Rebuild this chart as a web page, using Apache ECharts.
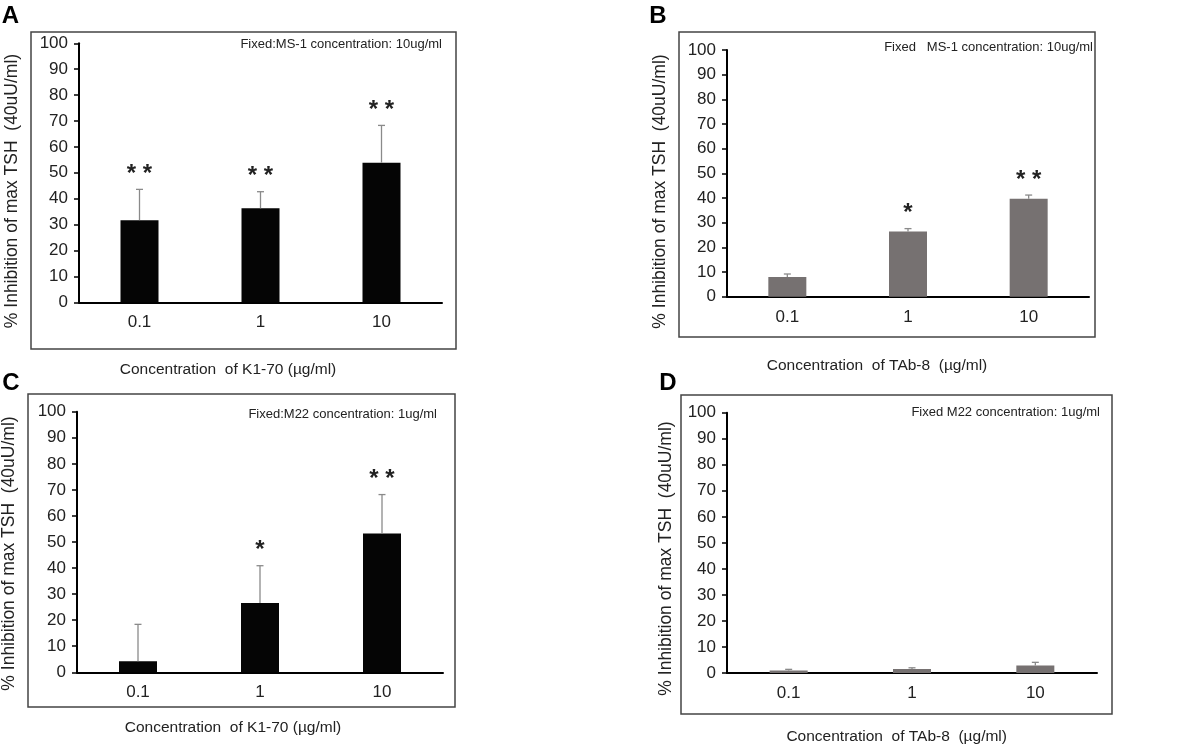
<!DOCTYPE html>
<html>
<head>
<meta charset="utf-8">
<script src="https://cdn.jsdelivr.net/npm/echarts@6/dist/echarts.min.js"></script>
<style>
html,body{margin:0;padding:0;background:#fff;}
#chart{width:1179px;height:746px;}
</style>
</head>
<body>
<div id="chart"></div>
<script>
// ---- data ----
const categories = ['0.1', '1', '10'];
const tickValues = [0, 10, 20, 30, 40, 50, 60, 70, 80, 90, 100];

const meanA = [31.7, 36.3, 53.9];
const errA  = [11.9, 6.4, 14.4];
const sigA  = ['**', '**', '**'];

const meanB = [8.0, 26.4, 39.7];
const errB  = [1.2, 1.2, 1.5];
const sigB  = ['', '*', '**'];

const meanC = [4.2, 26.6, 53.3];
const errC  = [14.2, 14.3, 14.9];
const sigC  = ['', '*', '**'];

const meanD = [1.0, 1.5, 2.9];
const errD  = [0.4, 0.5, 1.2];
const sigD  = ['', '', ''];

const panelLetters = ['A', 'B', 'C', 'D'];
const fixedNotes = [
  'Fixed:MS-1 concentration: 10ug/ml',
  'Fixed   MS-1 concentration: 10ug/ml',
  'Fixed:M22 concentration: 1ug/ml',
  'Fixed M22 concentration: 1ug/ml'
];
const xTitles = [
  'Concentration  of K1-70 (\u00b5g/ml)',
  'Concentration  of TAb-8  (\u00b5g/ml)',
  'Concentration  of K1-70 (\u00b5g/ml)',
  'Concentration  of TAb-8  (\u00b5g/ml)'
];
const yTitle = '% Inhibition of max TSH  (40uU/ml)';

// ---- layout / style ----
const FONT = '"Liberation Sans", Arial, sans-serif';
const BLACK_BAR = '#050505';
const GRAY_BAR = '#767171';
const panels = [
  {mean: meanA, err: errA, sig: sigA, color: BLACK_BAR,
   grid: {left: 79, top: 43.3, width: 363, height: 259},
   box: [31, 32, 425, 317], letter: [10.5, 16.5], note: [442, 44],
   xt: [228, 370], yt: [12, 191]},
  {mean: meanB, err: errB, sig: sigB, color: GRAY_BAR,
   grid: {left: 727, top: 50, width: 362, height: 246.7},
   box: [679, 32, 416, 305], letter: [658, 16], note: [1093, 47],
   xt: [877, 366], yt: [660.5, 191.5]},
  {mean: meanC, err: errC, sig: sigC, color: BLACK_BAR,
   grid: {left: 77, top: 411.7, width: 366, height: 260.6},
   box: [28, 394, 427, 313], letter: [11, 383], note: [437, 414],
   xt: [233, 727.7], yt: [9, 553.5]},
  {mean: meanD, err: errD, sig: sigD, color: GRAY_BAR,
   grid: {left: 727, top: 412.7, width: 370, height: 260.3},
   box: [681, 395, 431, 319], letter: [668, 383.5], note: [1100, 412],
   xt: [896.7, 736.7], yt: [666, 558.5]}
];

const grids = [], xAxes = [], yAxes = [], series = [], graphics = [];

panels.forEach((p, gi) => {
  grids.push(Object.assign({containLabel: false}, p.grid));
  xAxes.push({
    type: 'category', gridIndex: gi, data: categories, boundaryGap: true,
    axisLine: {lineStyle: {color: '#000', width: 2}},
    axisTick: {show: false},
    axisLabel: {fontFamily: FONT, fontSize: 17, color: '#222', margin: 12}
  });
  yAxes.push({
    type: 'value', gridIndex: gi, min: tickValues[0], max: tickValues[tickValues.length - 1],
    interval: tickValues[1] - tickValues[0],
    axisLine: {show: true, lineStyle: {color: '#000', width: 2}},
    axisTick: {show: true, length: 5, lineStyle: {color: '#000', width: 1.5}},
    splitLine: {show: false},
    axisLabel: {fontFamily: FONT, fontSize: 17, color: '#222', margin: 11}
  });
  series.push({
    type: 'bar', xAxisIndex: gi, yAxisIndex: gi, data: p.mean, barWidth: 38,
    itemStyle: {color: p.color}, silent: true
  });
  series.push({
    type: 'custom', xAxisIndex: gi, yAxisIndex: gi, silent: true, z: 5,
    data: p.mean.map((m, i) => [i, m, m + p.err[i]]),
    renderItem: function (params, api) {
      const i = api.value(0);
      const base = api.coord([i, api.value(1)]);
      const top = api.coord([i, api.value(2)]);
      const cap = 3.5;
      const children = [
        {type: 'line', shape: {x1: base[0], y1: base[1], x2: top[0], y2: top[1]},
         style: {stroke: '#8a8a8a', lineWidth: 1.3}},
        {type: 'line', shape: {x1: top[0] - cap, y1: top[1], x2: top[0] + cap, y2: top[1]},
         style: {stroke: '#8a8a8a', lineWidth: 1.3}}
      ];
      const s = p.sig[params.dataIndex];
      if (s) {
        children.push({type: 'text', x: top[0], y: top[1] - 23 + 8,
          style: {text: s.split('').join(' '), fontFamily: FONT, fontWeight: 'bold', fontSize: 24, fill: '#222',
                  align: 'center', verticalAlign: 'middle'}});
      }
      return {type: 'group', children: children};
    }
  });
  graphics.push({type: 'rect', shape: {x: p.box[0], y: p.box[1], width: p.box[2], height: p.box[3]},
    style: {fill: 'none', stroke: '#444', lineWidth: 1.5}, silent: true});
  graphics.push({type: 'text', x: p.letter[0], y: p.letter[1],
    style: {text: panelLetters[gi], fontFamily: FONT, fontWeight: 'bold', fontSize: 24, fill: '#000',
            align: 'center', verticalAlign: 'middle'}});
  graphics.push({type: 'text', x: p.note[0], y: p.note[1],
    style: {text: fixedNotes[gi], fontFamily: FONT, fontSize: 13, fill: '#222',
            align: 'right', verticalAlign: 'middle'}});
  graphics.push({type: 'text', x: p.xt[0], y: p.xt[1],
    style: {text: xTitles[gi], fontFamily: FONT, fontSize: 15.5, fill: '#222',
            align: 'center', verticalAlign: 'middle'}});
  graphics.push({type: 'text', x: p.yt[0], y: p.yt[1], rotation: Math.PI / 2,
    style: {text: yTitle, fontFamily: FONT, fontSize: 17.5, fill: '#222',
            align: 'center', verticalAlign: 'middle'}});
});

const chart = echarts.init(document.getElementById('chart'), null, {renderer: 'canvas'});
chart.setOption({
  animation: false,
  backgroundColor: '#fff',
  grid: grids, xAxis: xAxes, yAxis: yAxes, series: series,
  graphic: graphics
});
</script>
</body>
</html>
